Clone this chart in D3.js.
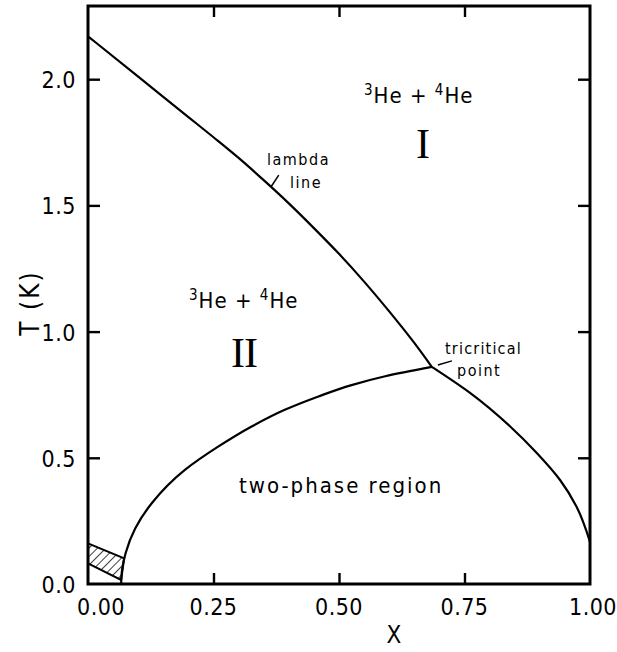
<!DOCTYPE html>
<html>
<head>
<meta charset="utf-8">
<script src="https://cdn.jsdelivr.net/npm/d3@7"></script>
<style>
  html, body { margin: 0; padding: 0; background: #fff; }
  svg { display: block; }
  text { font-family: "DejaVu Sans Condensed", "DejaVu Sans", sans-serif; fill: #000; }
  text.roman { font-family: "Liberation Serif", "DejaVu Serif", serif; }
</style>
</head>
<body>
<svg id="chart" width="617" height="652"></svg>
<script>
// Phase diagram of 3He-4He mixtures: X = 3He concentration, T in kelvin.

// Lambda line: superfluid transition, from the pure-4He lambda point to the tricritical point
const lambdaX = [0.0, 0.1, 0.2, 0.25, 0.3, 0.35, 0.4, 0.45, 0.5, 0.55, 0.6, 0.65, 0.685];
const lambdaT = [2.17, 2.01, 1.85, 1.77, 1.688, 1.60, 1.508, 1.41, 1.308, 1.198, 1.08, 0.955, 0.86];

// Phase-separation curve, 4He-rich (superfluid) branch
const sepLeftX = [0.066, 0.068, 0.075, 0.094, 0.127, 0.193, 0.26, 0.326, 0.392, 0.459, 0.525, 0.592, 0.685];
const sepLeftT = [0.0, 0.058, 0.123, 0.22, 0.32, 0.452, 0.545, 0.624, 0.69, 0.743, 0.788, 0.823, 0.86];

// Phase-separation curve, 3He-rich (normal) branch
const sepRightX = [0.685, 0.761, 0.841, 0.894, 0.94, 0.973, 1.0];
const sepRightT = [0.86, 0.757, 0.624, 0.519, 0.413, 0.307, 0.167];

// Hatched corner region at low concentration and low temperature
const hatchX = [0.0, 0.072, 0.066, 0.0];
const hatchT = [0.161, 0.102, 0.016, 0.082];

// Axis ticks
const xTicks = [0, 0.25, 0.5, 0.75, 1.0];
const xTickLabels = ["0.00", "0.25", "0.50", "0.75", "1.00"];
const yTicks = [0, 0.5, 1.0, 1.5, 2.0];
const yTickLabels = ["0.0", "0.5", "1.0", "1.5", "2.0"];

const svg = d3.select("#chart");
const plotLeft = 88, plotRight = 590, plotTop = 6, plotBottom = 584;

const x = d3.scaleLinear().domain([0, 1]).range([plotLeft, plotRight]);
const y = d3.scaleLinear().domain([0, 2.29]).range([plotBottom, plotTop]);

const zip = (xs, ts) => xs.map((v, i) => [v, ts[i]]);

// hatch pattern
const defs = svg.append("defs");
const pat = defs.append("pattern")
  .attr("id", "hatch")
  .attr("patternUnits", "userSpaceOnUse")
  .attr("width", 6).attr("height", 6)
  .attr("patternTransform", "rotate(45)");
pat.append("line")
  .attr("x1", 0).attr("y1", 0).attr("x2", 0).attr("y2", 6)
  .attr("stroke", "#000").attr("stroke-width", 1.5);

const lineX = d3.line().x(d => x(d[0])).y(d => y(d[1])).curve(d3.curveMonotoneX);
const lineY = d3.line().x(d => x(d[0])).y(d => y(d[1])).curve(d3.curveMonotoneY);

// hatched region
svg.append("path")
  .attr("d", d3.line().x(d => x(d[0])).y(d => y(d[1]))(zip(hatchX, hatchT)) + "Z")
  .attr("fill", "url(#hatch)")
  .attr("stroke", "#000")
  .attr("stroke-width", 2);

// curves
const curveStyle = p => p.attr("fill", "none").attr("stroke", "#000")
  .attr("stroke-width", 2.2).attr("stroke-linejoin", "round");
svg.append("path").attr("d", lineX(zip(lambdaX, lambdaT))).call(curveStyle);
svg.append("path").attr("d", lineY(zip(sepLeftX, sepLeftT))).call(curveStyle);
svg.append("path").attr("d", lineY(zip(sepRightX, sepRightT).reverse())).call(curveStyle);

// axes (inward ticks on all four sides)
const tickLen = 11;
const gx = svg.append("g").attr("transform", `translate(0,${plotBottom})`)
  .call(d3.axisBottom(x).tickValues(xTicks.slice(1, -1)).tickSize(-tickLen).tickFormat(""));
const gxt = svg.append("g").attr("transform", `translate(0,${plotTop})`)
  .call(d3.axisTop(x).tickValues(xTicks.slice(1, -1)).tickSize(-tickLen).tickFormat(""));
const gy = svg.append("g").attr("transform", `translate(${plotLeft},0)`)
  .call(d3.axisLeft(y).tickValues(yTicks.slice(1)).tickSize(-tickLen - 1).tickFormat(""));
const gyr = svg.append("g").attr("transform", `translate(${plotRight},0)`)
  .call(d3.axisRight(y).tickValues(yTicks.slice(1)).tickSize(-tickLen - 1).tickFormat(""));
[gx, gxt, gy, gyr].forEach(g => {
  g.select(".domain").remove();
  g.selectAll(".tick line").attr("stroke", "#000").attr("stroke-width", 2.4);
});

// frame
svg.append("rect")
  .attr("x", plotLeft).attr("y", plotTop)
  .attr("width", plotRight - plotLeft).attr("height", plotBottom - plotTop)
  .attr("fill", "none").attr("stroke", "#000").attr("stroke-width", 3);

// tick labels
svg.append("g").selectAll("text")
  .data(xTicks)
  .join("text")
  .attr("x", (d, i) => x(d) + (i === 0 ? 13 : (i === xTicks.length - 1 ? 3 : 0)))
  .attr("y", 615)
  .attr("text-anchor", "middle")
  .attr("font-size", 23)
  .attr("letter-spacing", 0.5)
  .text((d, i) => xTickLabels[i]);

svg.append("g").selectAll("text")
  .data(yTicks)
  .join("text")
  .attr("x", 76)
  .attr("y", d => y(d) + 9)
  .attr("text-anchor", "end")
  .attr("font-size", 23)
  .attr("letter-spacing", 0.5)
  .text((d, i) => yTickLabels[i]);

// axis titles
svg.append("text")
  .attr("transform", `translate(39,303) rotate(-90)`)
  .attr("text-anchor", "middle")
  .attr("font-size", 26)
  .attr("letter-spacing", 2)
  .text("T (K)");
svg.append("text")
  .attr("x", 394).attr("y", 643)
  .attr("text-anchor", "middle")
  .attr("font-size", 24)
  .text("X");

// region labels
function heLabel(x0, y0) {
  const t = svg.append("text").attr("x", x0).attr("y", y0).attr("font-size", 22).attr("letter-spacing", 1);
  t.append("tspan").attr("font-size", 15).attr("dy", -8).text("3");
  t.append("tspan").attr("dy", 8).text("He + ");
  t.append("tspan").attr("font-size", 15).attr("dy", -8).text("4");
  t.append("tspan").attr("dy", 8).text("He");
}
heLabel(364, 103);
heLabel(189, 308);

svg.append("text")
  .attr("class", "roman")
  .attr("x", 423).attr("y", 158)
  .attr("text-anchor", "middle")
  .attr("font-size", 42)
  .text("I");
svg.append("text")
  .attr("class", "roman")
  .attr("x", 244).attr("y", 367)
  .attr("text-anchor", "middle")
  .attr("font-size", 42)
  .attr("letter-spacing", -1)
  .text("II");

svg.append("text")
  .attr("x", 239).attr("y", 493)
  .attr("font-size", 22)
  .attr("letter-spacing", 2)
  .text("two-phase region");

// lambda line annotation
svg.append("text").attr("x", 267).attr("y", 165).attr("font-size", 16).attr("letter-spacing", 1.5).text("lambda");
svg.append("text").attr("x", 290).attr("y", 188).attr("font-size", 16).attr("letter-spacing", 1.5).text("line");
svg.append("line")
  .attr("x1", x(0.365)).attr("y1", y(1.575))
  .attr("x2", x(0.38)).attr("y2", y(1.62))
  .attr("stroke", "#000").attr("stroke-width", 1.5);

// tricritical point annotation
svg.append("text").attr("x", 445).attr("y", 354).attr("font-size", 16).attr("letter-spacing", 1.2).text("tricritical");
svg.append("text").attr("x", 457).attr("y", 376).attr("font-size", 16).attr("letter-spacing", 1.5).text("point");
svg.append("line")
  .attr("x1", x(0.697)).attr("y1", y(0.868))
  .attr("x2", x(0.725)).attr("y2", y(0.884))
  .attr("stroke", "#000").attr("stroke-width", 1.5);
</script>
</body>
</html>
